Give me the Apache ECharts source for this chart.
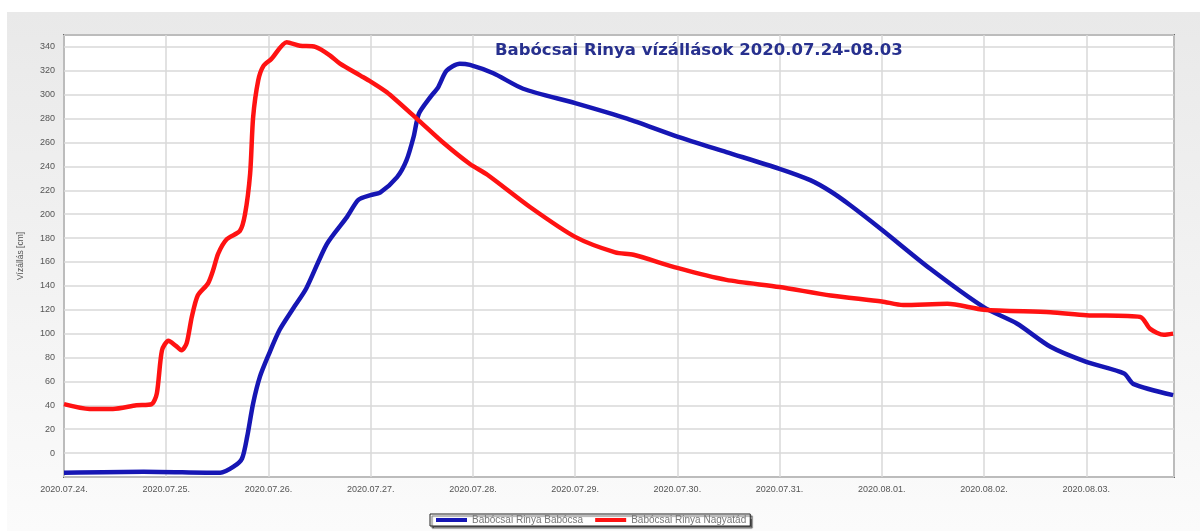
<!DOCTYPE html>
<html>
<head>
<meta charset="utf-8">
<title>Babócsai Rinya vízállások</title>
<script src="https://cdn.jsdelivr.net/npm/echarts@6/dist/echarts.min.js"></script>
<style>
  html, body { margin: 0; padding: 0; background: #fff; }
  #chart { width: 1200px; height: 531px; }
</style>
</head>
<body>
<div id="chart"></div>
<script>
// x tick labels, one per day (x values are hours from 2020.07.24. 00:00)
const dayLabels = [
  "2020.07.24.", "2020.07.25.", "2020.07.26.", "2020.07.27.", "2020.07.28.",
  "2020.07.29.", "2020.07.30.", "2020.07.31.", "2020.08.01.", "2020.08.02.",
  "2020.08.03."
];

// Babócsa (blue)
const babocsaHours = [
  0, 18.7, 36.7, 39.8, 41.8, 43, 44.4, 46, 48, 50.6, 53.8, 56.9, 61.7, 66.5,
  69.1, 72, 74.2, 78.2, 80.4, 82.1, 83.3, 86, 87.8, 89.8, 92.9, 95.3, 100.8,
  107.8, 120, 132.2, 144, 155.5, 168, 175.2, 180, 184.6, 192, 203.3, 216,
  223.7, 231.6, 240, 248.9, 251, 260.4
];
const babocsaLevels = [
  -16.5, -15.6, -16.5, -11.4, -4.5, 13.7, 41.6, 64, 82, 103, 121, 138, 175, 198,
  212, 216, 218, 231, 245, 265, 284, 298, 306, 320, 326, 325, 318,
  305, 293, 280, 265, 252, 238, 228.5, 219, 207.5, 187, 154.5, 122,
  108.5, 89, 76.4, 66.7, 58, 48.5
];

// Nagyatád (red)
const nagyatadHours = [
  0, 6, 11.5, 17, 20.6, 21.8, 23, 24.5, 26.2, 27.6, 28.8, 30, 31.4, 33.8, 35,
  36.2, 38.2, 41.3, 42.5, 43.7, 44.4, 45.6, 46.8, 48.7, 52.3, 55.4, 59, 62.4,
  64.8, 69.6, 72, 75.8, 82.8, 89, 95.3, 99.4, 109.4, 120, 129.4, 133.7, 144,
  155.5, 168, 180, 192, 197, 207.4, 216, 231.6, 240, 252.7, 255, 258.2, 260.4
];
const nagyatadLevels = [
  41, 37, 37, 40, 41, 50, 86, 94, 90, 86, 92, 114, 132, 142, 153,
  167, 179, 186, 200, 234, 281, 312, 324, 330, 344, 341, 340, 333,
  326, 316, 311, 302, 280, 260, 242, 233, 206, 181, 168, 166, 155,
  145, 139, 132, 127, 124, 125, 120, 118, 115.5, 114, 104, 99, 100
];

function pairs(xs, ys) {
  return xs.map((x, i) => [x, ys[i]]);
}

let chart = echarts.init(document.getElementById("chart"));

let option = {
  backgroundColor: "#ffffff",
  animation: false,
  graphic: [
    {
      type: "rect",
      z: -10,
      silent: true,
      shape: { x: 7, y: 12, width: 1193, height: 519 },
      style: {
        fill: {
          type: "linear", x: 0, y: 0, x2: 0, y2: 1,
          colorStops: [
            { offset: 0, color: "#e9e9e9" },
            { offset: 1, color: "#fbfbfb" },
          ],
        },
      },
    },
  ],
  title: {
    text: "Babócsai Rinya vízállások 2020.07.24-08.03",
    left: 490,
    top: 37,
    textStyle: {
      color: "#27308e",
      fontFamily: "DejaVu Sans",
      fontWeight: "bold",
      fontSize: 16.5,
    },
  },
  legend: {
    left: 430,
    top: 514,
    itemWidth: 31,
    itemHeight: 4,
    itemGap: 12,
    icon: "rect",
    padding: [1, 4, 1, 6],
    backgroundColor: "#ffffff",
    borderColor: "#222",
    borderWidth: 1,
    shadowColor: "rgba(0,0,0,0.6)",
    shadowOffsetX: 2,
    shadowOffsetY: 2,
    shadowBlur: 1,
    textStyle: { color: "#777", fontSize: 10, fontFamily: "Liberation Sans" },
  },
  grid: {
    left: 64,
    right: 26,
    top: 35,
    bottom: 54,
    show: true,
    backgroundColor: "#ffffff",
    borderColor: "#6a6a6a",
    borderWidth: 2,
  },
  xAxis: {
    type: "value",
    min: 0,
    max: 260.6,
    interval: 24,
    axisLine: { show: false },
    axisTick: { show: false },
    axisLabel: {
      color: "#555",
      fontSize: 9,
      fontFamily: "Liberation Sans",
      margin: 8,
      showMaxLabel: false,
      formatter: (v) => (v % 24 === 0 ? dayLabels[v / 24] || "" : ""),
    },
    splitLine: { show: true, lineStyle: { color: "#d8d8d8", width: 1.5 } },
  },
  yAxis: {
    type: "value",
    min: -20,
    max: 350,
    interval: 20,
    name: "Vízállás [cm]",
    nameLocation: "middle",
    nameGap: 39,
    nameTextStyle: { color: "#555", fontSize: 8.5, fontFamily: "Liberation Sans" },
    axisLine: { show: false },
    axisTick: { show: false },
    axisLabel: {
      color: "#555",
      fontSize: 9,
      fontFamily: "Liberation Sans",
      margin: 9,
      formatter: (v) => (v < 0 || v > 340 ? "" : String(v)),
    },
    splitLine: { show: true, lineStyle: { color: "#d8d8d8", width: 1.5 } },
  },
  series: [
    {
      name: "Babócsai Rinya Babócsa",
      type: "line",
      symbol: "none",
      smooth: 0.25,
      color: "#1616b4",
      lineStyle: { width: 4.5, color: "#1616b4" },
      data: pairs(babocsaHours, babocsaLevels),
    },
    {
      name: "Babócsai Rinya Nagyatád",
      type: "line",
      symbol: "none",
      smooth: 0.25,
      color: "#ff1212",
      lineStyle: { width: 4.5, color: "#ff1212" },
      data: pairs(nagyatadHours, nagyatadLevels),
    },
  ],
};

option && chart.setOption(option);
</script>
</body>
</html>
